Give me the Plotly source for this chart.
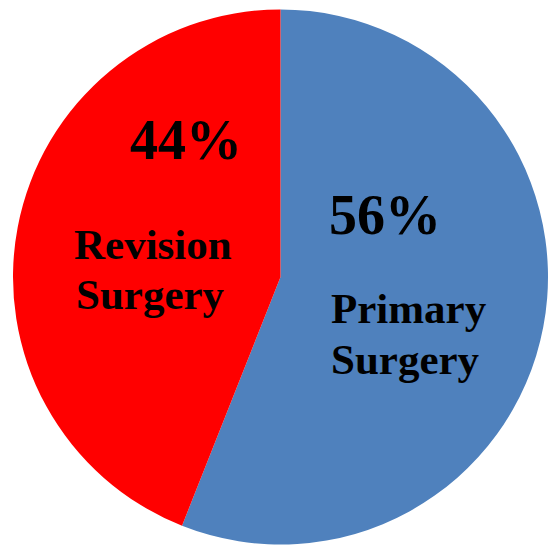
import plotly.graph_objects as go

categories = ["Primary Surgery", "Revision Surgery"]
values = [56, 44]
colors = ["#4F81BD", "#FF0000"]
pct_labels = ["56%", "44%"]

W = H = 548

fig = go.Figure(go.Pie(
    labels=categories,
    values=values,
    sort=False,
    direction="clockwise",
    rotation=0,
    marker=dict(colors=colors, line=dict(width=0)),
    textinfo="none",
    hoverinfo="label+percent",
    showlegend=False,
    domain=dict(x=[13 / W, 1], y=[2 / H, 540 / H]),
))

def px(x, y):
    return x / W, 1 - y / H

font_big = dict(family="Liberation Serif", size=56, color="black", weight="bold")
font_lbl = dict(family="Liberation Serif", size=43, color="black", weight="bold")

annos = []
# percentages
for txt, (x, y) in zip(pct_labels, [(385, 215), (186, 140)]):
    xp, yp = px(x, y)
    annos.append(dict(x=xp, y=yp, xref="paper", yref="paper", text=txt,
                      showarrow=False, font=font_big, xanchor="center", yanchor="middle"))
# category labels, split into lines
prim = categories[0].split(" ")
rev = categories[1].split(" ")
for txt, (x, y), anc in [
    (prim[0], (329, 308), "left"),
    (prim[1], (329, 359), "left"),
    (rev[0], (153, 244), "center"),
    (rev[1], (150, 294), "center"),
]:
    xp, yp = px(x, y)
    annos.append(dict(x=xp, y=yp, xref="paper", yref="paper", text=txt,
                      showarrow=False, font=font_lbl, xanchor=anc, yanchor="middle"))

fig.update_layout(
    width=W, height=H,
    margin=dict(l=0, r=0, t=0, b=0),
    paper_bgcolor="white",
    plot_bgcolor="white",
    annotations=annos,
)

fig.write_html("out.html", config={"displayModeBar": False},
               post_script="document.body.style.margin='0';")
